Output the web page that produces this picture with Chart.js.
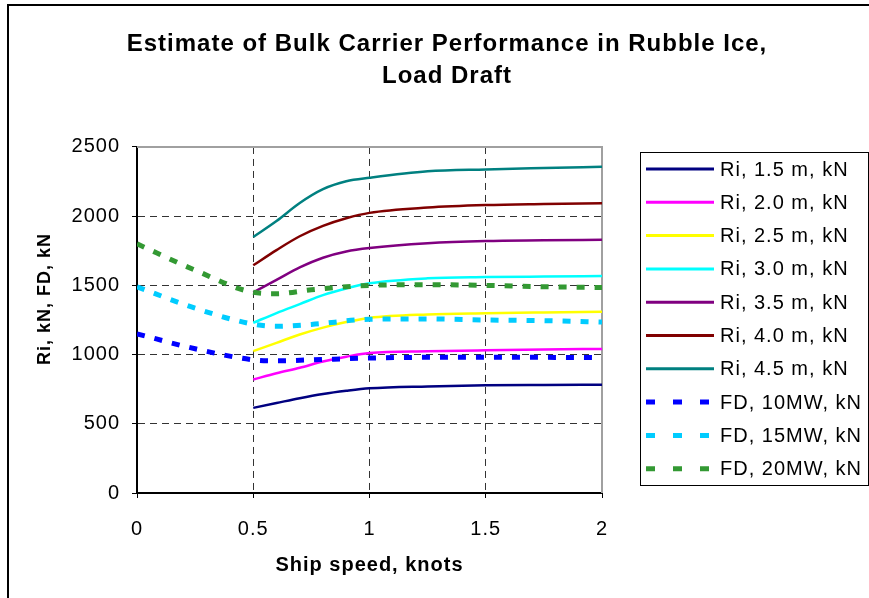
<!DOCTYPE html>
<html>
<head>
<meta charset="utf-8">
<script src="https://cdn.jsdelivr.net/npm/chart.js@4/dist/chart.umd.min.js"></script>
<style>
  html, body { margin: 0; padding: 0; background: #fff; }
  #wrap { position: relative; width: 869px; height: 598px; }
</style>
</head>
<body>
<div id="wrap"><canvas id="perfChart"></canvas></div>
<script>
// ======================================================
// Bulk carrier in rubble ice, load draft
// Ri = ice resistance per ice thickness, FD = net thrust per power
// ======================================================

const chartTitle = ["Estimate of Bulk Carrier Performance in Rubble Ice,", "Load Draft"];

// ship speed, knots
const speedRi = [0.5, 0.6, 0.7, 0.8, 0.9, 1.0, 1.25, 1.5, 1.75, 2.0];
const speedFD = [0, 0.25, 0.5, 0.6, 0.75, 1.0, 1.25, 1.5, 1.75, 2.0];

// resistance, kN
const ri15 = [615, 650, 685, 715, 738, 756, 770, 778, 781, 783];
const ri20 = [820, 865, 905, 950, 985, 1012, 1024, 1031, 1037, 1041];
const ri25 = [1025, 1085, 1145, 1195, 1235, 1265, 1290, 1299, 1305, 1310];
const ri30 = [1230, 1300, 1365, 1430, 1478, 1515, 1551, 1560, 1564, 1567];
const ri35 = [1450, 1540, 1630, 1700, 1745, 1770, 1805, 1821, 1826, 1830];
const ri40 = [1645, 1755, 1855, 1930, 1985, 2024, 2062, 2080, 2088, 2094];
const ri45 = [1850, 1965, 2095, 2195, 2252, 2277, 2324, 2338, 2348, 2357];

// net thrust, kN
const fd10 = [1150, 1042, 962, 955, 962, 975, 980, 980, 980, 978];
const fd15 = [1490, 1335, 1220, 1205, 1218, 1255, 1258, 1250, 1245, 1235];
const fd20 = [1800, 1610, 1450, 1440, 1468, 1500, 1505, 1500, 1490, 1485];

const seriesLabels = [
    "Ri, 1.5 m, kN", "Ri, 2.0 m, kN", "Ri, 2.5 m, kN", "Ri, 3.0 m, kN",
    "Ri, 3.5 m, kN", "Ri, 4.0 m, kN", "Ri, 4.5 m, kN",
    "FD, 10MW, kN", "FD, 15MW, kN", "FD, 20MW, kN"
];
const seriesColors = [
    "#000080", "#ff00ff", "#ffff00", "#00ffff", "#800080", "#800000", "#008080",
    "#0000ff", "#00ccff", "#339933"
];

const xTicks = [0, 0.5, 1, 1.5, 2];
const yTicks = [0, 500, 1000, 1500, 2000, 2500];

const FONT = '"Liberation Sans", Arial, sans-serif';

(() => {
    const riSets = [ri15, ri20, ri25, ri30, ri35, ri40, ri45];
    const fdSets = [fd10, fd15, fd20];

    const toPoints = (xs, ys) => ys.map((y, i) => ({ x: xs[i], y: y }));

    const datasets = [];
    riSets.forEach((vals, i) => {
        datasets.push({
            label: seriesLabels[i],
            data: toPoints(speedRi, vals),
            borderColor: seriesColors[i],
            borderWidth: 2.5,
            pointRadius: 0,
            cubicInterpolationMode: "monotone",
            fill: false,
            order: 1
        });
    });
    fdSets.forEach((vals, i) => {
        const k = riSets.length + i;
        datasets.push({
            label: seriesLabels[k],
            data: toPoints(speedFD, vals),
            borderColor: seriesColors[k],
            borderWidth: 5,
            borderDash: [8, 10],
            borderCapStyle: "butt",
            pointRadius: 0,
            cubicInterpolationMode: "monotone",
            fill: false,
            order: 0
        });
    });

    // Excel-like text has a bit of tracking
    const tracking = {
        id: "tracking",
        beforeLayout(chart) { chart.ctx.letterSpacing = "1px"; },
        beforeDraw(chart)   { chart.ctx.letterSpacing = "1px"; }
    };

    // outer chart frame + grey plot-area border
    const frames = {
        id: "frames",
        beforeDatasetsDraw(chart) {
            const { ctx, chartArea: a } = chart;
            ctx.save();
            ctx.strokeStyle = "#a0a0a0";
            ctx.lineWidth = 2;
            ctx.beginPath();
            ctx.moveTo(a.left, a.top);
            ctx.lineTo(a.right, a.top);
            ctx.lineTo(a.right, a.bottom);
            ctx.stroke();
            ctx.restore();
        },
        afterDraw(chart) {
            const ctx = chart.ctx;
            ctx.save();
            ctx.strokeStyle = "#000";
            ctx.lineWidth = 2;
            ctx.beginPath();
            ctx.moveTo(8, chart.height);
            ctx.lineTo(8, 5);
            ctx.lineTo(chart.width, 5);
            ctx.stroke();
            ctx.restore();
        }
    };

    // boxed legend to the right of the plot
    const boxLegend = {
        id: "boxLegend",
        afterDraw(chart) {
            const ctx = chart.ctx;
            const ds = chart.data.datasets;
            ctx.save();
            ctx.letterSpacing = "1px";
            ctx.strokeStyle = "#000";
            ctx.lineWidth = 1;
            ctx.strokeRect(640.5, 152.5, 228, 333);
            ctx.font = "20px " + FONT;
            ctx.textBaseline = "middle";
            ctx.textAlign = "left";
            ds.forEach((d, i) => {
                const y = 169 + i * 33.3;
                const dashed = !!d.borderDash;
                ctx.beginPath();
                ctx.strokeStyle = d.borderColor;
                ctx.lineWidth = dashed ? 5 : 3;
                ctx.setLineDash(dashed ? [9, 18] : []);
                ctx.moveTo(646, y);
                ctx.lineTo(dashed ? 710 : 714, y);
                ctx.stroke();
                ctx.fillStyle = "#000";
                ctx.fillText(d.label, 720, y + 1);
            });
            ctx.restore();
        }
    };

    const edgeColor = (vals, lo, hi) => ctx =>
        (ctx.tick && (ctx.tick.value === lo || ctx.tick.value === hi)) ? "rgba(0,0,0,0)" : "#333";

    new Chart(document.getElementById("perfChart"), {
        type: "line",
        data: { datasets: datasets },
        plugins: [tracking, frames, boxLegend],
        options: {
            responsive: true,
            maintainAspectRatio: false,
            animation: false,
            layout: { padding: { left: 25, top: 0, right: 0, bottom: 0 } },
            plugins: {
                legend: { display: false },
                tooltip: { enabled: false },
                title: {
                    display: true,
                    text: chartTitle,
                    color: "#000",
                    font: { family: FONT, size: 24, weight: "bold", lineHeight: 1.333 },
                    padding: { top: 28, bottom: 55 }
                }
            },
            scales: {
                x: {
                    type: "linear",
                    min: 0, max: 2,
                    afterBuildTicks(axis) { axis.ticks = xTicks.map(v => ({ value: v })); },
                    afterFit(axis) { axis.height = 105; },
                    grid: {
                        color: edgeColor(xTicks, 0, 2),
                        lineWidth: 1,
                        tickLength: 5,
                        tickColor: "#000",
                        tickWidth: 1,
                        tickBorderDash: []
                    },
                    border: { display: true, color: "#000", width: 2, dash: [7, 5] },
                    ticks: {
                        color: "#000",
                        padding: 19,
                        maxRotation: 0,
                        font: { family: FONT, size: 20 },
                        callback: v => String(v)
                    },
                    title: {
                        display: true,
                        text: "Ship speed, knots",
                        color: "#000",
                        font: { family: FONT, size: 20, weight: "bold" },
                        padding: { top: 0, bottom: 21 }
                    }
                },
                y: {
                    type: "linear",
                    min: 0, max: 2500,
                    afterBuildTicks(axis) { axis.ticks = yTicks.map(v => ({ value: v })); },
                    afterFit(axis) { axis.width = 112; },
                    grid: {
                        color: edgeColor(yTicks, 0, 2500),
                        lineWidth: 1,
                        tickLength: 5,
                        tickColor: "#000",
                        tickWidth: 1,
                        tickBorderDash: []
                    },
                    border: { display: true, color: "#000", width: 2, dash: [7, 5] },
                    ticks: {
                        color: "#000",
                        padding: 12,
                        font: { family: FONT, size: 20 },
                        callback: v => String(v)
                    },
                    title: {
                        display: true,
                        text: "       Ri, kN, FD, kN",
                        color: "#000",
                        font: { family: FONT, size: 18, weight: "bold" },
                        padding: { top: 9, bottom: 0 }
                    }
                },
                yRight: {
                    type: "linear",
                    position: "right",
                    display: true,
                    afterFit(axis) { axis.width = 267; },
                    grid: { display: false },
                    border: { display: false },
                    ticks: { display: false }
                }
            }
        }
    });
})();
</script>
</body>
</html>
